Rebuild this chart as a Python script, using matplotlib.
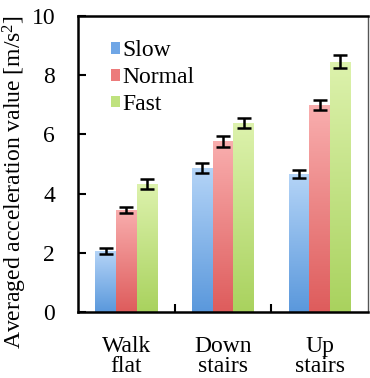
import matplotlib
matplotlib.use("Agg")
import matplotlib.pyplot as plt
import numpy as np
from matplotlib.colors import LinearSegmentedColormap
from matplotlib.patches import Patch

categories = ["Walk\nflat", "Down\nstairs", "Up\nstairs"]
series = ["Slow", "Normal", "Fast"]
slow = [2.05, 4.86, 4.66]
normal = [3.45, 5.77, 6.99]
fast = [4.32, 6.37, 8.46]
slow_err = [0.10, 0.18, 0.14]
normal_err = [0.11, 0.18, 0.17]
fast_err = [0.17, 0.17, 0.22]
yticks = [0, 2, 4, 6, 8, 10]

values = [slow, normal, fast]
errors = [slow_err, normal_err, fast_err]
top_colors = ["#b4d4f7", "#f9aeae", "#ddf2ad"]
bot_colors = ["#5a98dc", "#de5c5c", "#a9d25e"]
legend_colors = ["#6fa6e6", "#ec7b7b", "#bfe27e"]

plt.rcParams['font.family'] = ['Liberation Serif', 'DejaVu Serif']
plt.rcParams['mathtext.fontset'] = 'custom'
plt.rcParams['mathtext.rm'] = 'Liberation Serif'
plt.rcParams['mathtext.it'] = 'Liberation Serif:italic'

FS = 17

fig = plt.figure(figsize=(3.70, 3.78), dpi=100)
ax = fig.add_axes([78/370, 1-312/378, (368-78)/370, (312-16)/378])

x = np.arange(len(categories))
w = 0.213
handles = []
for i, (vals, errs) in enumerate(zip(values, errors)):
    pos = x + (i - 1) * w
    bars = ax.bar(pos, vals, width=w, color=legend_colors[i], edgecolor='none', zorder=2)
    cmap = LinearSegmentedColormap.from_list("g%d" % i, [bot_colors[i], top_colors[i]])
    for b in bars:
        bx, by = b.get_x(), b.get_y()
        bw, bh = b.get_width(), b.get_height()
        grad = np.linspace(0, 1, 256).reshape(-1, 1)
        im = ax.imshow(grad, extent=[bx, bx + bw, by, by + bh], origin='lower',
                       cmap=cmap, aspect='auto', zorder=2.5)
        im.set_clip_path(b)
    ax.errorbar(pos, vals, yerr=errs, fmt='none', ecolor='black', elinewidth=1.8,
                capsize=5.3, capthick=1.8, zorder=3)
    handles.append(Patch(facecolor=legend_colors[i], edgecolor='none', label=series[i]))

ax.set_xlim(-0.5, 2.5)
ax.set_ylim(0, 10)
ax.set_yticks(yticks)
ax.set_yticklabels([str(t) for t in yticks], fontsize=FS)
ax.set_xticks([0.5, 1.5])
ax.set_xticklabels([])
ax.tick_params(axis='both', direction='in', length=6, width=1.5)
ax.tick_params(axis='y', pad=16.5)
for sp in ax.spines.values():
    sp.set_linewidth(1.8)
ax.spines['right'].set_linewidth(1.0)
ax.spines['right'].set_color('#555555')

for i, c in enumerate(categories):
    ax.text(x[i], -0.8, c, ha='center', va='top', fontsize=FS, linespacing=0.98,
            transform=ax.transData)

ax.set_ylabel("Averaged acceleration value [m/s$^2$]", fontsize=FS)
ax.yaxis.set_label_coords(-0.168, 0.44)

leg = ax.legend(handles=handles, loc='upper left', bbox_to_anchor=(0.082, 0.95), frameon=False,
                fontsize=FS, handlelength=0.38, handleheight=0.38, handletextpad=0.08,
                labelspacing=0.25, borderaxespad=0)
ax.set_zorder(1)
fig.savefig("out.png", dpi=100)
